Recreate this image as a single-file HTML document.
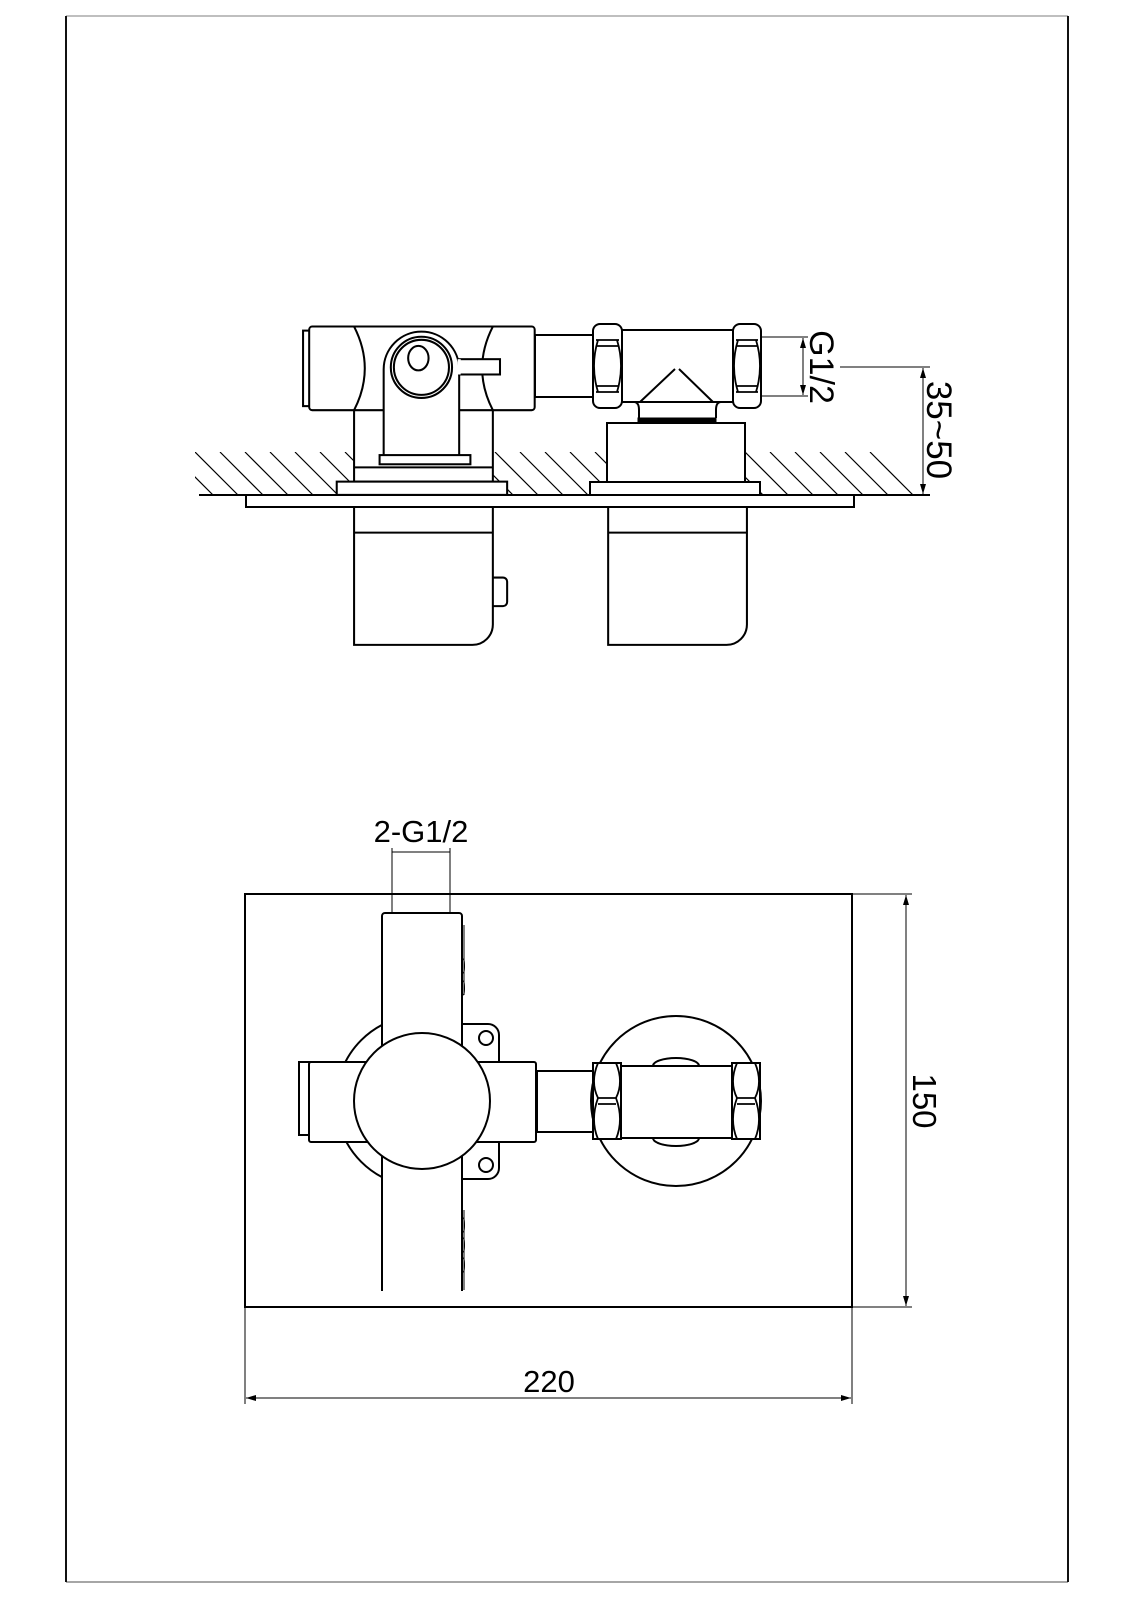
<!DOCTYPE html>
<html><head><meta charset="utf-8"><style>
html,body{margin:0;padding:0;background:#fff;}
svg{display:block;}
text{font-family:"Liberation Sans",Arial,sans-serif;fill:#000;}
</style></head><body>
<svg width="1130" height="1600" viewBox="0 0 1130 1600" xmlns="http://www.w3.org/2000/svg">
<defs>
<marker id="ar" viewBox="0 0 10 10" refX="10" refY="5" markerWidth="10" markerHeight="10" orient="auto-start-reverse" markerUnits="userSpaceOnUse">
<path d="M0,2 L10,5 L0,8 z" fill="#000"/></marker>
<clipPath id="hc"><rect x="195" y="452" width="720" height="43"/></clipPath>
<clipPath id="lc"><rect x="0" y="0" width="382" height="1600"/></clipPath>
</defs>
<!-- frame -->
<line x1="66" y1="16" x2="1068" y2="16" stroke="#aaa" stroke-width="1.5"/>
<line x1="66" y1="1582" x2="1068" y2="1582" stroke="#888" stroke-width="1.5"/>
<line x1="66" y1="16" x2="66" y2="1582" stroke="#111" stroke-width="2"/>
<line x1="1068" y1="16" x2="1068" y2="1582" stroke="#111" stroke-width="2"/>

<g fill="none" stroke="#000" stroke-width="2">
<!-- hatch -->
<g clip-path="url(#hc)" stroke-width="1.2">
<path d="M170,452 l43,43 M195,452 l43,43 M220,452 l43,43 M245,452 l43,43 M270,452 l43,43 M295,452 l43,43 M320,452 l43,43 M345,452 l43,43 M370,452 l43,43 M395,452 l43,43 M420,452 l43,43 M445,452 l43,43 M470,452 l43,43 M495,452 l43,43 M520,452 l43,43 M545,452 l43,43 M570,452 l43,43 M595,452 l43,43 M620,452 l43,43 M645,452 l43,43 M670,452 l43,43 M695,452 l43,43 M720,452 l43,43 M745,452 l43,43 M770,452 l43,43 M795,452 l43,43 M820,452 l43,43 M845,452 l43,43 M870,452 l43,43"/>
</g>
<line x1="199" y1="495" x2="930" y2="495"/>
<rect x="246" y="495" width="608" height="12" fill="#fff"/>

<g transform="scale(1.0204)">
<!-- left valve top view -->
<rect x="347" y="400" width="136" height="72" fill="#fff"/>
<rect x="330" y="472" width="167" height="13" fill="#fff"/>
<rect x="297" y="324" width="8" height="74" fill="#fff"/>
<rect x="303" y="320" width="221" height="82" rx="3" fill="#fff"/>
<path d="M347,320 Q368,361 347,402 M483,320 Q462,361 483,402"/>
<path d="M376,448 V362 A37,37 0 0 1 450,362 V448 Z" fill="#fff"/>
<rect x="372" y="446" width="89" height="9" fill="#fff"/>
<line x1="347" y1="458" x2="483" y2="458"/>
<circle cx="413" cy="360" r="30"/>
<circle cx="413" cy="360" r="27"/>
<ellipse cx="410" cy="351" rx="10" ry="12"/>
<rect x="450" y="352" width="40" height="15" fill="#fff"/>
<line x1="450" y1="352" x2="450" y2="367" stroke="#fff" stroke-width="3"/>
<!-- lower housings -->
<path d="M347,497 V632 H463 A20,20 0 0 0 483,612 V497"/>
<line x1="347" y1="522" x2="483" y2="522"/>
<path d="M483,566 h10 a4,4 0 0 1 4,4 v20 a4,4 0 0 1 -4,4 h-10"/>
<path d="M596,497 V632 H712 A20,20 0 0 0 732,612 V497"/>
<line x1="596" y1="522" x2="732" y2="522"/>
</g>

<!-- right tee top view (actual coords) -->
<rect x="535" y="335" width="58" height="62" fill="#fff"/>
<rect x="607" y="423" width="138" height="72" fill="#fff"/>
<rect x="590" y="482" width="170" height="13" fill="#fff"/>
<rect x="622" y="330" width="111" height="72" fill="#fff"/>
<path d="M640,402 L675,369 M679,369 L713,402"/>
<path d="M622,402 h12 q5,0 5,8 v8 M733,402 h-12 q-5,0 -5,8 v8"/>
<rect x="638" y="418" width="78" height="4" fill="#000" stroke-width="1"/>
<g fill="#fff">
<rect x="593" y="324" width="29" height="84" rx="7"/>
<rect x="733" y="324" width="28" height="84" rx="7"/>
</g>
<path d="M598,340 Q590,366 598,392 M617,340 Q625,366 617,392 M596,340 h23 M596,346 h23 M596,386 h23 M596,392 h23" stroke-width="1.8"/>
<path d="M738,340 Q730,366 738,392 M756,340 Q764,366 756,392 M736,340 h22 M736,346 h22 M736,386 h22 M736,392 h22" stroke-width="1.8"/>

<!-- G1/2 dim -->
<g stroke-width="1">
<line x1="761" y1="337" x2="808" y2="337"/>
<line x1="761" y1="396" x2="808" y2="396"/>
<line x1="803" y1="338" x2="803" y2="395" marker-start="url(#ar)" marker-end="url(#ar)"/>
<line x1="840" y1="367" x2="930" y2="367"/>
<line x1="923" y1="368" x2="923" y2="494" marker-start="url(#ar)" marker-end="url(#ar)"/>
</g>
</g>
<text transform="translate(810,367) rotate(90)" font-size="34" text-anchor="middle">G1/2</text>
<text transform="translate(927,430) rotate(90)" font-size="35" text-anchor="middle">35~50</text>

<!-- bottom view -->
<g fill="none" stroke="#000" stroke-width="2">
<rect x="245" y="894" width="607" height="413"/>
<circle cx="422" cy="1101" r="86" clip-path="url(#lc)"/>
<path d="M462,1024 h26 a11,11 0 0 1 11,11 v27 M462,1179 h26 a11,11 0 0 0 11,-11 v-26" fill="#fff"/>
<circle cx="486" cy="1038" r="7"/>
<circle cx="486" cy="1165" r="7"/>
<path d="M382,1291 V916 a3,3 0 0 1 3,-3 h74 a3,3 0 0 1 3,3 V1291" fill="#fff"/>
<g stroke-width="1">
<path d="M464,925 v70 M464,1210 v80"/>
<ellipse cx="463" cy="966" rx="1.5" ry="7"/><ellipse cx="463" cy="988" rx="1.5" ry="7"/>
<ellipse cx="463" cy="1225" rx="1.5" ry="7"/><ellipse cx="463" cy="1245" rx="1.5" ry="7"/><ellipse cx="463" cy="1265" rx="1.5" ry="7"/>
</g>
<rect x="299" y="1062" width="11" height="73" fill="#fff"/>
<rect x="309" y="1062" width="227" height="80" rx="2" fill="#fff"/>
<circle cx="422" cy="1101" r="68" fill="#fff"/>
<rect x="537" y="1071" width="56" height="61" fill="#fff"/>
<circle cx="676" cy="1101" r="85" fill="#fff"/>
<path d="M653,1066 a23,8 0 0 1 46,0 M653,1138 a23,8 0 0 0 46,0" stroke-width="2"/>
<rect x="621" y="1066" width="111" height="72" fill="#fff"/>
<rect x="593" y="1063" width="28" height="76" fill="#fff"/>
<rect x="732" y="1063" width="28" height="76" fill="#fff"/>
<path d="M598,1063 Q590,1082 598,1098 Q590,1120 598,1139 M616,1063 Q624,1082 616,1098 Q624,1120 616,1139 M598,1098 h18 M598,1104 h18" stroke-width="1.8"/>
<path d="M737,1063 Q729,1082 737,1098 Q729,1120 737,1139 M755,1063 Q763,1082 755,1098 Q763,1120 755,1139 M737,1098 h18 M737,1104 h18" stroke-width="1.8"/>
<!-- dims -->
<g stroke-width="1">
<line x1="852" y1="894" x2="912" y2="894"/>
<line x1="852" y1="1307" x2="912" y2="1307"/>
<line x1="906" y1="895" x2="906" y2="1306" marker-start="url(#ar)" marker-end="url(#ar)"/>
<line x1="245" y1="1307" x2="245" y2="1404"/>
<line x1="852" y1="1307" x2="852" y2="1404"/>
<line x1="246" y1="1398" x2="851" y2="1398" marker-start="url(#ar)" marker-end="url(#ar)"/>
<line x1="392" y1="848" x2="392" y2="913"/>
<line x1="450" y1="848" x2="450" y2="913"/>
<line x1="392" y1="852" x2="450" y2="852"/>
</g>
</g>
<text x="421" y="842" font-size="31" text-anchor="middle">2-G1/2</text>
<text x="549" y="1392" font-size="31" text-anchor="middle">220</text>
<text transform="translate(913,1101) rotate(90)" font-size="33" text-anchor="middle">150</text>
</svg>
</body></html>
